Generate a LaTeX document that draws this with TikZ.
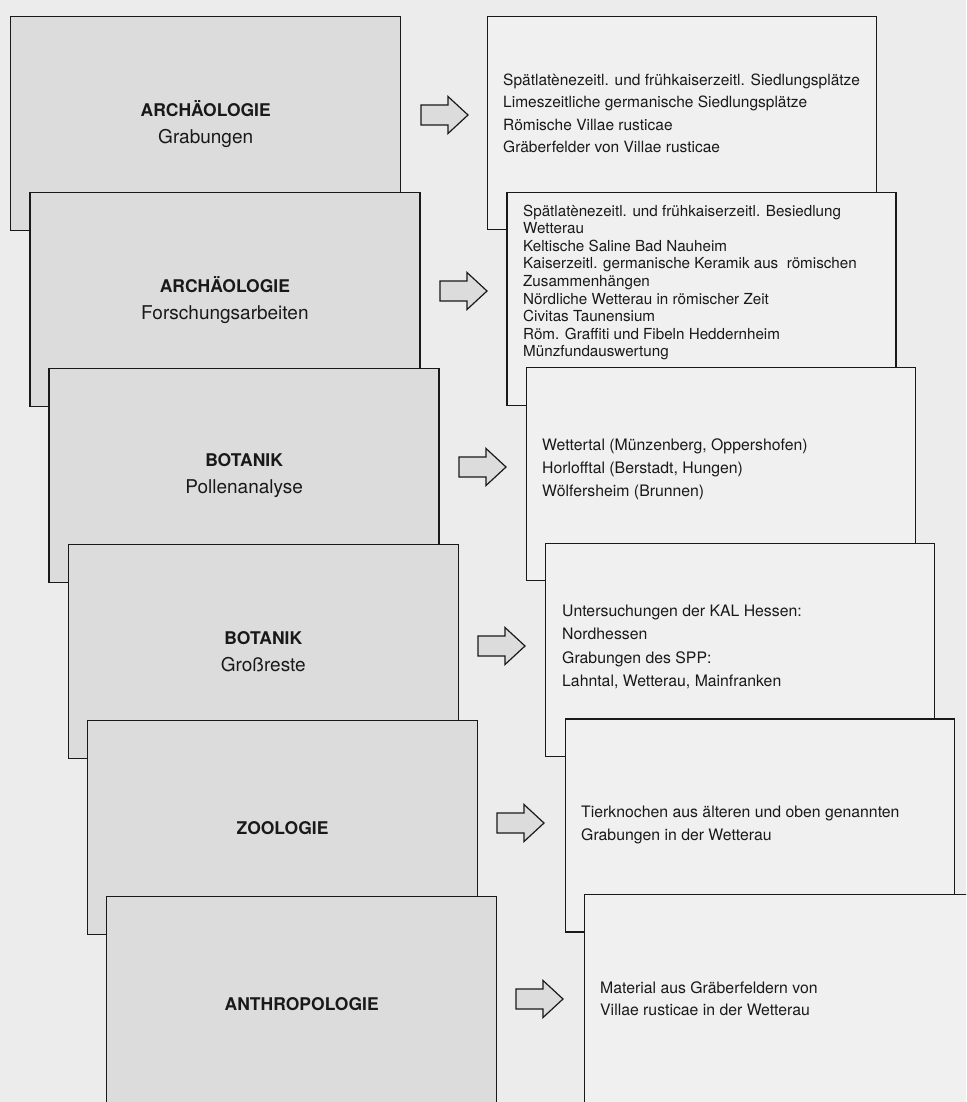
\documentclass[tikz,border=0pt]{standalone}
\usepackage{fontspec}
\setmainfont{TeX Gyre Heros}
\definecolor{pagebg}{RGB}{236,236,236}
\definecolor{cardfill}{RGB}{220,220,220}
\definecolor{rcardfill}{RGB}{240,240,240}
\definecolor{ink}{RGB}{25,25,25}
\tikzset{
  lcard/.style={draw=ink, line width=1.4pt, fill=cardfill, minimum width=390pt,
    minimum height=214pt, anchor=north west, inner sep=0pt, align=center,
    text=ink, font=\fontsize{17.5}{27}\selectfont},
  rcard/.style={draw=ink, line width=1.1pt, fill=rcardfill, minimum width=389pt,
    minimum height=213pt, anchor=north west, inner sep=0pt},
  rtext/.style={anchor=west, align=left, inner sep=0pt, text=ink},
  arrowline/.style={draw=ink, line width=1.2pt, fill=cardfill, line join=miter},
  pics/blockarrow/.style={code={
    \draw[arrowline] (0,-10) -- (27,-10) -- (27,-18.5) -- (47,0) -- (27,18.5)
      -- (27,10) -- (0,10) -- cycle;}},
}
\newcommand{\subt}[1]{{\fontsize{19}{27}\selectfont\mdseries #1}}
\begin{document}
\begin{tikzpicture}[x=1pt, y=-1pt]
\useasboundingbox (0,0) rectangle (966,1102);
\fill[pagebg] (0,0) rectangle (966,1102);
\clip (0,0) rectangle (966,1102);

% left cards (stacked)
\node[lcard] (L1) at (10,16)    {\textbf{ARCHÄOLOGIE}\\\subt{Grabungen}};
\node[lcard] (L2) at (29.2,192) {\textbf{ARCHÄOLOGIE}\\\subt{Forschungsarbeiten}};
\node[lcard] (L3) at (48.4,368) {\textbf{BOTANIK}\\\subt{Pollenanalyse}};
\node[lcard] (L4) at (67.6,544) {\textbf{BOTANIK}\\\subt{Großreste}};
\node[lcard] (L5) at (86.8,720) {\textbf{ZOOLOGIE}};
\node[lcard] (L6) at (106,896)  {\textbf{ANTHROPOLOGIE}};

% right cards (stacked)
\node[rcard] (R1) at (487,16)    {};
\node[rcard] (R2) at (506.4,191.6) {};
\node[rcard] (R3) at (525.8,367.2) {};
\node[rcard] (R4) at (545.2,542.8) {};
\node[rcard] (R5) at (564.6,718.4) {};
\node[rcard] (R6) at (584,894)   {};

% arrows
\pic at (421,115) {blockarrow};
\pic at (440,291) {blockarrow};
\pic at (459,467) {blockarrow};
\pic at (478,646) {blockarrow};
\pic at (497,823) {blockarrow};
\pic at (516,999) {blockarrow};

% texts of right cards
\node[rtext, font=\fontsize{15.5}{22.4}\selectfont] (T1) at (503,113.5)
  {Spätlatènezeitl. und frühkaiserzeitl. Siedlungsplätze\\
   Limeszeitliche germanische Siedlungsplätze\\
   Römische Villae rusticae\\
   Gräberfelder von Villae rusticae};
\node[rtext, font=\fontsize{15.2}{17.6}\selectfont] (T2) at (523,282.5)
  {Spätlatènezeitl. und frühkaiserzeitl. Besiedlung\\
   Wetterau\\
   Keltische Saline Bad Nauheim\\
   Kaiserzeitl. germanische Keramik aus~ römischen\\
   Zusammenhängen\\
   Nördliche Wetterau in römischer Zeit\\
   Civitas Taunensium\\
   Röm. Graffiti und Fibeln Heddernheim\\
   Münzfundauswertung};
\node[rtext, font=\fontsize{15.8}{23}\selectfont] (T3) at (542,469)
  {Wettertal (Münzenberg, Oppershofen)\\
   Horlofftal (Berstadt, Hungen)\\
   Wölfersheim (Brunnen)};
\node[rtext, font=\fontsize{15.8}{23.3}\selectfont] (T4) at (562,647)
  {Untersuchungen der KAL Hessen:\\
   Nordhessen\\
   Grabungen des SPP:\\
   Lahntal, Wetterau, Mainfranken};
\node[rtext, font=\fontsize{15.8}{23}\selectfont] (T5) at (581,824.5)
  {Tierknochen aus älteren und oben genannten\\
   Grabungen in der Wetterau};
\node[rtext, font=\fontsize{15.8}{22}\selectfont] (T6) at (600,999)
  {Material aus Gräberfeldern von\\
   Villae rusticae in der Wetterau};
\end{tikzpicture}
\end{document}
